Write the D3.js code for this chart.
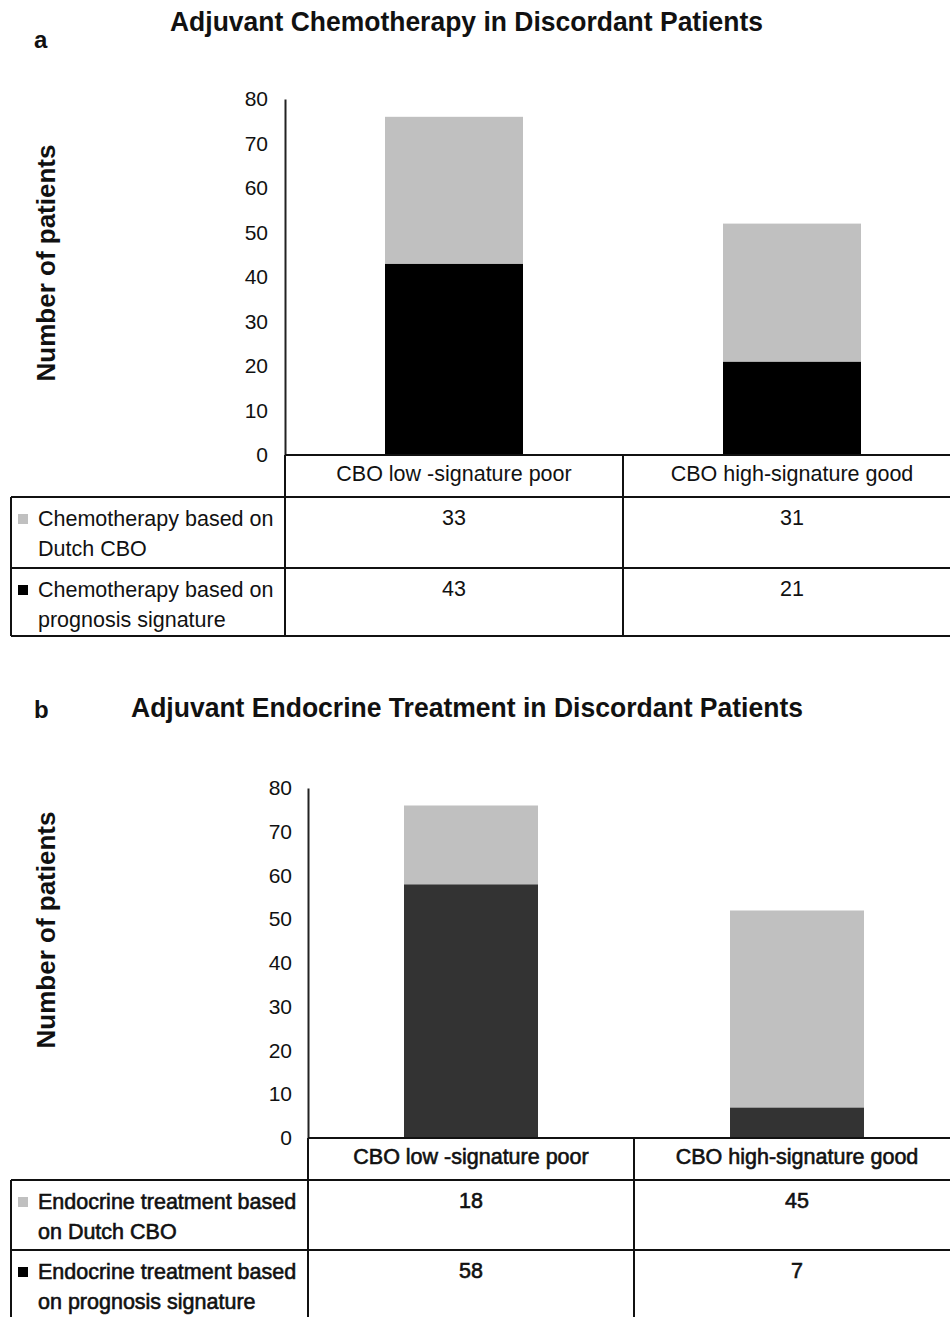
<!DOCTYPE html>
<html>
<head>
<meta charset="utf-8">
<script src="https://cdn.jsdelivr.net/npm/d3@7"></script>
<style>
body { margin: 0; background: #fff; }
svg { display: block; }
</style>
</head>
<body>
<div id="chart"></div>
<script>
var W = 950
var H = 1317

// data
var categories = ["CBO low -signature poor", "CBO high-signature good"]
var yTicks = [0, 10, 20, 30, 40, 50, 60, 70, 80]
var chemoCBO = [33, 31]
var chemoSignature = [43, 21]
var endoCBO = [18, 45]
var endoSignature = [58, 7]
var chemoLabels = [["Chemotherapy based on", "Dutch CBO"], ["Chemotherapy based on", "prognosis signature"]]
var endoLabels = [["Endocrine treatment based", "on Dutch CBO"], ["Endocrine treatment based", "on prognosis signature"]]

var svg = d3.select("#chart")
  .append("svg")
  .attr("width", W)
  .attr("height", H)
  .style("font-family", "'Liberation Sans', Arial, sans-serif")

var fs = "21.5px" // table text size

function drawPanel(p) {
  var g = svg.append("g")

  var rows = categories.map(function(c, i) {
    return { cat: c, signature: p.signature[i], cbo: p.cbo[i] }
  })
  var stacked = d3.stack().keys(["signature", "cbo"])(rows)

  var x = d3.scaleBand()
    .domain(categories)
    .range([p.axisX, p.axisX + 2 * p.colW])
  var y = d3.scaleLinear()
    .domain([0, 80])
    .range([p.y0, p.yTop])

  var colour = { signature: p.dark, cbo: "#c0c0c0" }

  // bars
  g.selectAll(".layer")
    .data(stacked)
    .enter()
    .append("g")
    .attr("fill", function(d) { return colour[d.key] })
    .selectAll("rect")
    .data(function(d) { return d })
    .enter()
    .append("rect")
    .attr("x", function(d) { return x(d.data.cat) + (x.bandwidth() - p.barW) / 2 })
    .attr("y", function(d) { return y(d[1]) })
    .attr("width", p.barW)
    .attr("height", function(d) { return y(d[0]) - y(d[1]) })

  // y axis
  var yAxis = d3.axisLeft(y)
    .tickValues(yTicks)
    .tickSize(0)
    .tickSizeOuter(0)
    .tickPadding(p.tickPad)
  var ax = g.append("g")
    .attr("transform", "translate(" + p.axisX + ",0)")
    .call(yAxis)
  ax.select(".domain").attr("stroke", "#222").attr("stroke-width", 2)
  ax.selectAll("text")
    .style("font-size", "21px")
    .style("font-family", "'Liberation Sans', Arial, sans-serif")
    .attr("fill", "#111")

  // table grid
  var line = function(x1, y1, x2, y2) {
    g.append("line")
      .attr("x1", x1).attr("y1", y1).attr("x2", x2).attr("y2", y2)
      .attr("stroke", "#111").attr("stroke-width", 2)
  }
  var right = p.axisX + 2 * p.colW
  line(p.axisX, p.y0, right, p.y0)
  line(p.axisX, p.y0, p.axisX, p.rowB[1])
  line(x(categories[1]), p.y0, x(categories[1]), p.rowB[1])
  line(p.left, p.catB, right, p.catB)
  line(p.left, p.rowB[0], right, p.rowB[0])
  line(p.left, p.rowB[1], right, p.rowB[1])
  line(p.left, p.catB, p.left, p.rowB[1])

  var txtStroke = p.heavy ? 0.6 : 0

  // category row
  g.selectAll(".cat")
    .data(categories)
    .enter()
    .append("text")
    .attr("x", function(d) { return x(d) + x.bandwidth() / 2 })
    .attr("y", p.y0 + 26)
    .attr("text-anchor", "middle")
    .style("font-size", fs)
    .attr("fill", "#111")
    .attr("stroke", "#111").attr("stroke-width", txtStroke)
    .text(function(d) { return d })

  // value rows
  var series = [p.cbo, p.signature]
  var rowTop = [p.catB, p.rowB[0]]
  series.forEach(function(vals, r) {
    g.selectAll(".val" + r)
      .data(vals)
      .enter()
      .append("text")
      .attr("x", function(d, i) { return x(categories[i]) + x.bandwidth() / 2 })
      .attr("y", rowTop[r] + 28)
      .attr("text-anchor", "middle")
      .style("font-size", fs)
      .attr("fill", "#111")
      .attr("stroke", "#111").attr("stroke-width", txtStroke)
      .text(function(d) { return d })

    g.append("rect")
      .attr("x", p.left + 7)
      .attr("y", rowTop[r] + 17)
      .attr("width", 10)
      .attr("height", 10)
      .attr("fill", r == 0 ? "#c0c0c0" : "#000")

    var t = g.append("text")
      .attr("x", p.left + 27)
      .attr("y", rowTop[r] + 29)
      .style("font-size", fs)
      .attr("fill", "#111")
      .attr("stroke", "#111").attr("stroke-width", txtStroke)
    t.append("tspan").text(p.labels[r][0])
    t.append("tspan").attr("x", p.left + 27).attr("dy", 30).text(p.labels[r][1])
  })

  // titles
  g.append("text")
    .attr("x", p.titleX)
    .attr("y", p.titleY)
    .attr("textLength", p.titleW)
    .attr("lengthAdjust", "spacingAndGlyphs")
    .style("font-size", "27px")
    .style("font-weight", "bold")
    .attr("fill", "#111")
    .text(p.title)

  g.append("text")
    .attr("x", 34)
    .attr("y", p.letterY)
    .style("font-size", "24px")
    .style("font-weight", "bold")
    .attr("fill", "#111")
    .text(p.letter)

  g.append("text")
    .attr("transform", "translate(" + 55 + "," + p.labelY + ") rotate(-90)")
    .attr("text-anchor", "middle")
    .attr("textLength", 237)
    .attr("lengthAdjust", "spacingAndGlyphs")
    .style("font-size", "26px")
    .style("font-weight", "bold")
    .attr("fill", "#111")
    .text("Number of patients")
}

drawPanel({
  cbo: chemoCBO, signature: chemoSignature, labels: chemoLabels,
  title: "Adjuvant Chemotherapy in Discordant Patients", letter: "a",
  titleX: 170, titleY: 31, titleW: 593, letterY: 48, labelY: 263,
  axisX: 285, colW: 338, yTop: 99, y0: 455, barW: 138, tickPad: 17,
  catB: 497, rowB: [568, 636], left: 11, dark: "#000", heavy: false
})

drawPanel({
  cbo: endoCBO, signature: endoSignature, labels: endoLabels,
  title: "Adjuvant Endocrine Treatment in Discordant Patients", letter: "b",
  titleX: 131, titleY: 717, titleW: 672, letterY: 718, labelY: 930,
  axisX: 308, colW: 326, yTop: 788, y0: 1138, barW: 134, tickPad: 16,
  catB: 1180, rowB: [1250, 1320], left: 11, dark: "#333", heavy: true
})
</script>
</body>
</html>
